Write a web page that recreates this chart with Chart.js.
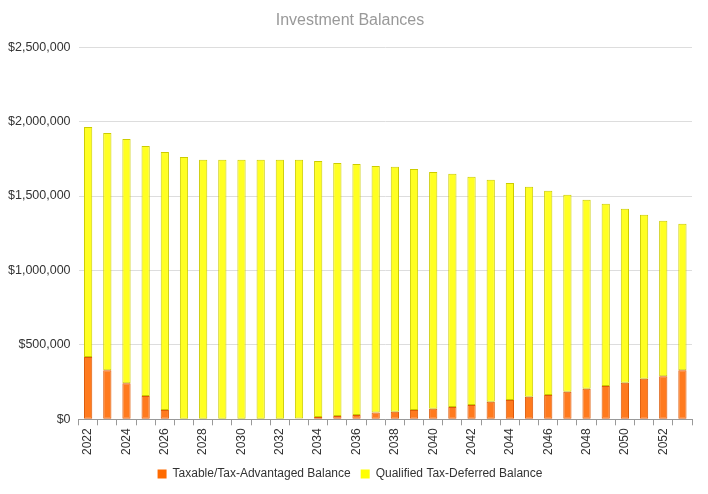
<!DOCTYPE html>
<html><head><meta charset="utf-8">
<script src="https://cdn.jsdelivr.net/npm/chart.js@4"></script>
<style>html,body{margin:0;padding:0;background:#fff;}#wrap{width:708px;height:494px;position:relative;}</style>
</head><body><div id="wrap"><canvas id="c" width="708" height="494"></canvas></div>
<script>
const years = ["2022","2023","2024","2025","2026","2027","2028","2029","2030","2031","2032","2033","2034","2035","2036","2037","2038","2039","2040","2041","2042","2043","2044","2045","2046","2047","2048","2049","2050","2051","2052","2053"];
const totals = [1964000,1924000,1883000,1836000,1796000,1763000,1743000,1743000,1743000,1743000,1743000,1743000,1736000,1722000,1716000,1702000,1696000,1682000,1662000,1649000,1629000,1609000,1588000,1562000,1535000,1508000,1475000,1448000,1414000,1374000,1334000,1314000];
const taxable = [418000,330000,243000,156000,62000,0,0,0,0,0,0,5000,15000,22000,29000,45000,51000,62000,71000,83000,96000,118000,130000,152000,163000,185000,206000,223000,246000,273000,290000,330000];
const qualified = totals.map((t,i)=>t-taxable[i]);
const yTicks = [0,500000,1000000,1500000,2000000,2500000];
const FONT = 'Liberation Sans, Arial, sans-serif';

new Chart(document.getElementById('c'), {
  type: 'bar',
  data: {
    labels: years,
    datasets: [
      { label: 'Taxable/Tax-Advantaged Balance', data: taxable,
        backgroundColor: '#ff7a1e', borderColor: '#dd5a08', borderWidth: 1, borderSkipped: false,
        barPercentage: 0.43, categoryPercentage: 1.0 },
      { label: 'Qualified Tax-Deferred Balance', data: qualified,
        backgroundColor: '#ffff22', borderColor: '#cccc00', borderWidth: 1, borderSkipped: false,
        barPercentage: 0.43, categoryPercentage: 1.0 }
    ]
  },
  options: {
    responsive: false, animation: false, maintainAspectRatio: false,
    layout: { padding: { left: 0, right: 8, top: 0, bottom: 4 } },
    plugins: {
      title: { display: true, text: 'Investment Balances', color: '#999999',
        font: { family: FONT, size: 16, weight: 'normal' },
        padding: { top: 11, bottom: 17 } },
      legend: { position: 'bottom',
        labels: { boxWidth: 9, boxHeight: 9, color: '#333', padding: 10,
          font: { family: FONT, size: 12 },
          generateLabels: (chart)=> chart.data.datasets.map((d,i)=>({
            text: d.label, fillStyle: i===0?'#ff6a00':'#ffff00', strokeStyle: i===0?'#ff6a00':'#ffff00',
            lineWidth: 0, datasetIndex: i, hidden: false, fontColor:'#333'})) } },
      tooltip: { enabled: false }
    },
    scales: {
      x: { stacked: true, offset: true,
        grid: { display: true, drawOnChartArea: false, offset: true, tickLength: 6, color: '#999' },
        border: { display: true, color: '#999' },
        ticks: { autoSkip: false, maxRotation: 90, minRotation: 90, color: '#333',
          font: { family: FONT, size: 12 },
          callback: function(v, i){ return i % 2 === 0 ? years[i] : ''; } } },
      y: { stacked: true, min: 0, max: 2500000,
        afterBuildTicks: (s)=>{ s.ticks = yTicks.map(v=>({value:v})); },
        grid: { color: '#dddddd', drawTicks: false },
        border: { display: false },
        ticks: { color: '#333', padding: 8,
          font: { family: FONT, size: 12.5 },
          callback: (v)=> '$' + Number(v).toLocaleString('en-US') } },
      yr: { position: 'right', display: true, min: 0, max: 1,
        grid: { display: false }, border: { display: false },
        ticks: { display: false },
        afterFit: (s)=>{ s.width = 8; } }
    }
  }
});
</script></body></html>
